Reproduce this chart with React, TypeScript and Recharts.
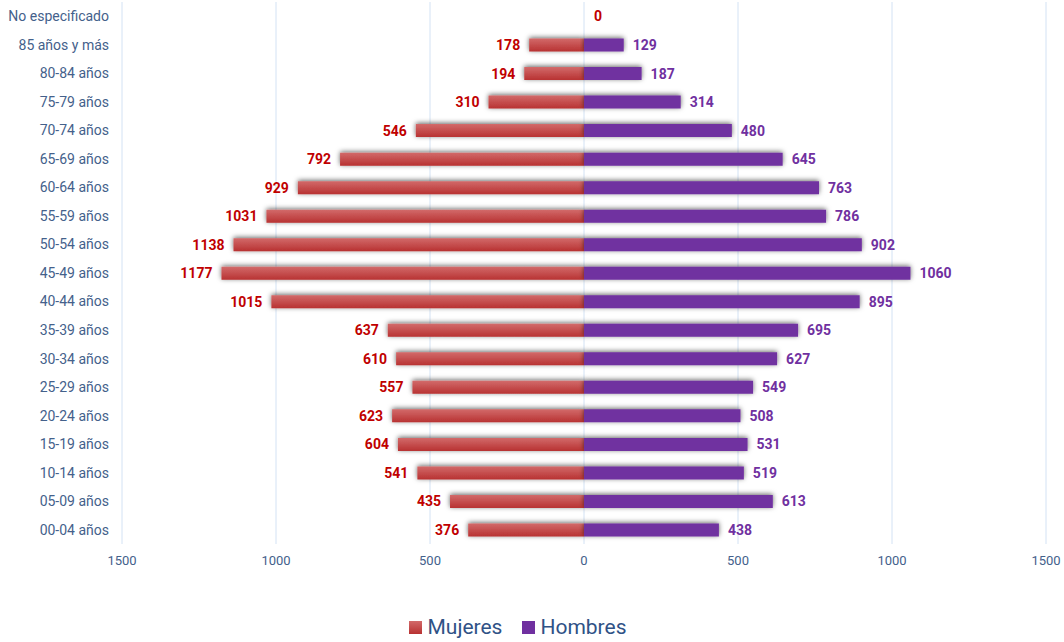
import { BarChart, Bar, XAxis, YAxis, CartesianGrid, Legend, LabelList, ReferenceDot } from 'recharts';

const grupos = [
  'No especificado', '85 años y más', '80-84 años', '75-79 años', '70-74 años', '65-69 años',
  '60-64 años', '55-59 años', '50-54 años', '45-49 años', '40-44 años', '35-39 años',
  '30-34 años', '25-29 años', '20-24 años', '15-19 años', '10-14 años', '05-09 años', '00-04 años',
];
const mujeres = [0, 178, 194, 310, 546, 792, 929, 1031, 1138, 1177, 1015, 637, 610, 557, 623, 604, 541, 435, 376];
const hombres = [null, 129, 187, 314, 480, 645, 763, 786, 902, 1060, 895, 695, 627, 549, 508, 531, 519, 613, 438];
const ticks = [-1500, -1000, -500, 0, 500, 1000, 1500];

const data = grupos.map((g, i) => ({
  grupo: g,
  Mujeres: -mujeres[i],
  Hombres: hombres[i],
}));

const FONT = 'Roboto, "Noto Sans", sans-serif';
const RED = '#c00000';
const PURPLE = '#7030a0';
const AXIS = '#44618b';

function MujeresLabel(props: any) {
  const { x, y, width, height, value } = props;
  if (value == null || value === 0) return null;
  const left = Math.min(x, x + width);
  return (
    <text x={left - 9} y={y + height / 2} dy={5} textAnchor="end" fill={RED} fontSize={14} fontWeight={700} fontFamily={FONT}>
      {Math.abs(value)}
    </text>
  );
}

// Recharts skips zero-width bars, so the "0" label comes from a reference dot
function ZeroLabel(props: any) {
  const { viewBox } = props;
  return (
    <text x={viewBox.x + 14} y={viewBox.y} dy={5} textAnchor="middle" fill={RED} fontSize={14} fontWeight={700} fontFamily={FONT}>
      0
    </text>
  );
}

function HombresLabel(props: any) {
  const { x, y, width, height, value } = props;
  if (value == null) return null;
  return (
    <text x={x + width + 9} y={y + height / 2} dy={5} textAnchor="start" fill={PURPLE} fontSize={14} fontWeight={700} fontFamily={FONT}>
      {value}
    </text>
  );
}

function LegendBox() {
  const item = (label: string, fill: string) => (
    <span style={{ display: 'inline-flex', alignItems: 'center', margin: '0 10px' }}>
      <span style={{ width: 13, height: 13, background: fill, display: 'inline-block', marginRight: 5 }} />
      <span style={{ fontSize: 21, color: '#2f5286', fontFamily: FONT }}>{label}</span>
    </span>
  );
  return (
    <div style={{ height: 34, display: 'flex', justifyContent: 'center', alignItems: 'center', paddingTop: 4, paddingRight: 10, boxSizing: 'border-box' }}>
      {item('Mujeres', 'linear-gradient(#d26a6a, #b83232)')}
      {item('Hombres', PURPLE)}
    </div>
  );
}

export default function App() {
  return (
    <div style={{ position: 'absolute', left: 0, top: 0, width: 1064, height: 642, background: '#fff' }}>
      <BarChart
        width={1064}
        height={642}
        data={data}
        layout="vertical"
        stackOffset="sign"
        barSize={13}
        margin={{ top: 2, right: 18, bottom: 0, left: 0 }}
      >
        <defs>
          <linearGradient id="gradMujeres" x1="0" y1="0" x2="0" y2="1">
            <stop offset="0%" stopColor="#d26a6a" />
            <stop offset="100%" stopColor="#b83232" />
          </linearGradient>
          <filter id="sombra" x="-10%" y="-100%" width="120%" height="300%">
            <feDropShadow dx="0" dy="-1" stdDeviation="2.5" floodColor="#000" floodOpacity="0.6" />
          </filter>
        </defs>
        <CartesianGrid horizontal={false} stroke="#d3e2f4" />
        <XAxis
          type="number"
          domain={[-1500, 1500]}
          ticks={ticks}
          tickFormatter={(v: number) => String(Math.abs(v))}
          axisLine={false}
          tickLine={false}
          tickMargin={6}
          height={64}
          tick={{ fill: AXIS, fontSize: 13, fontFamily: FONT }}
        />
        <YAxis
          type="category"
          dataKey="grupo"
          width={122}
          axisLine={false}
          tickLine={false}
          tickMargin={7}
          interval={0}
          tick={{ fill: AXIS, fontSize: 14, fontFamily: FONT }}
        />
        <Legend verticalAlign="bottom" height={34} content={() => <LegendBox />} />
        <Bar dataKey="Mujeres" stackId="a" fill="url(#gradMujeres)" filter="url(#sombra)" isAnimationActive={false}>
          <LabelList dataKey="Mujeres" content={MujeresLabel} />
        </Bar>
        <Bar dataKey="Hombres" stackId="a" fill={PURPLE} filter="url(#sombra)" isAnimationActive={false}>
          <LabelList dataKey="Hombres" content={HombresLabel} />
        </Bar>
        {grupos.map((g, i) =>
          mujeres[i] === 0 ? (
            <ReferenceDot key={g} x={0} y={g} r={0} fill="none" stroke="none" label={<ZeroLabel />} />
          ) : null
        )}
      </BarChart>
    </div>
  );
}
